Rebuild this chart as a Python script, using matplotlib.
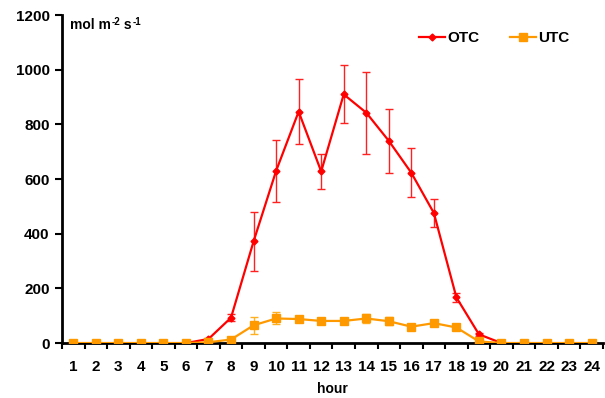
import matplotlib.pyplot as plt
from matplotlib.lines import Line2D
import numpy as np

plt.rcParams['font.family'] = ['Liberation Sans', 'DejaVu Sans']
plt.rcParams['font.weight'] = 'bold'

hours = list(range(1, 25))
otc = [0, 0, 0, 0, 0, 0, 15, 93, 372, 630, 847, 628, 910, 843, 740, 623, 476, 167, 32, 0, 0, 0, 0, 0]
otc_err = [0, 0, 0, 0, 0, 0, 4, 12, 107, 113, 118, 65, 106, 150, 118, 89, 53, 15, 6, 0, 0, 0, 0, 0]
utc = [0, 0, 0, 0, 0, 0, 3, 13, 65, 90, 88, 81, 81, 90, 80, 60, 73, 57, 6, 0, 0, 0, 0, 0]
utc_err = [0, 0, 0, 0, 0, 0, 1, 3, 30, 22, 12, 12, 8, 17, 15, 7, 8, 5, 2, 0, 0, 0, 0, 0]

red = '#ff0000'
orange = '#ff9900'

fig = plt.figure(figsize=(6.05, 3.98), dpi=100)
ax = fig.add_axes([0.1025, 0.138, 0.894, 0.824])

x = np.arange(len(hours))
ax.errorbar(x, otc, yerr=otc_err, color=red, lw=1.6, marker='D', ms=3.5,
            ecolor='#ff2020', elinewidth=1, capsize=3, capthick=1, zorder=3)
ax.errorbar(x, utc, yerr=utc_err, color=orange, lw=1.6, marker='s', ms=6,
            ecolor='#ffb020', elinewidth=1, capsize=3, capthick=1, zorder=4)

ax.set_xlim(-0.5, len(hours) - 0.5)
ax.set_ylim(0, 1200)
ax.set_yticks(range(0, 1201, 200))
ax.set_xticks(x)
ax.set_xticklabels([str(h) for h in hours])
ax.set_xticks(np.arange(-0.5, len(hours)), minor=True)
ax.tick_params(axis='x', which='major', length=0, pad=12, labelsize=11)
ax.tick_params(axis='x', which='minor', length=4, width=1.5, direction='out')
ax.tick_params(axis='y', length=5, width=1.5, direction='out', pad=4, labelsize=11)

for s in ['top', 'right']:
    ax.spines[s].set_visible(False)
ax.spines['left'].set_linewidth(2)
ax.spines['bottom'].set_linewidth(2)

# unit label built from pieces so the superscripts use a plain hyphen
t1 = ax.text(0.015, 0.99, 'mol m', transform=ax.transAxes, fontsize=10,
             fontweight='bold', va='top', ha='left')
t2 = ax.annotate('-2', xy=(1, 1), xycoords=t1, va='top', ha='left',
                 fontsize=7, fontweight='bold', xytext=(0.5, 1), textcoords='offset points')
t3 = ax.annotate(' s', xy=(1, 1), xycoords=t2, va='top', ha='left',
                 fontsize=10, fontweight='bold', xytext=(0, -1), textcoords='offset points')
ax.annotate('-1', xy=(1, 1), xycoords=t3, va='top', ha='left',
            fontsize=7, fontweight='bold', xytext=(0.5, 1), textcoords='offset points')

ax.set_xlabel('hour', fontsize=10, fontweight='bold', labelpad=6)

handles = [Line2D([], [], color=red, lw=1.6, marker='D', ms=3.5),
           Line2D([], [], color=orange, lw=1.6, marker='s', ms=6)]
leg = ax.legend(handles, ['OTC', 'UTC'], loc='upper right', bbox_to_anchor=(0.95, 0.97),
                borderaxespad=0, ncol=2, frameon=False, fontsize=11, handlelength=1.7,
                handletextpad=0.15, columnspacing=2.0)
for t in leg.get_texts():
    t.set_fontweight('bold')

fig.savefig('out.png', dpi=100)
